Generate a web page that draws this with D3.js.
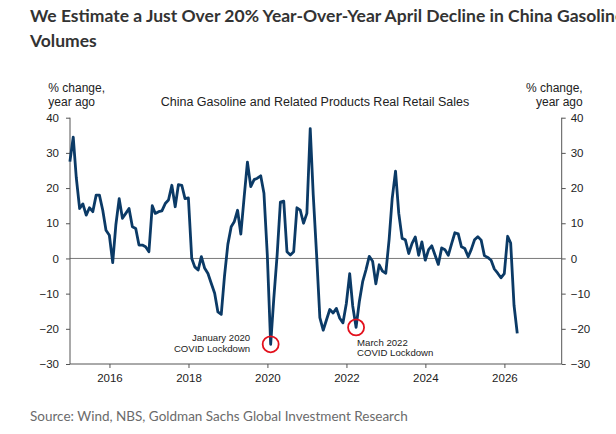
<!DOCTYPE html>
<html>
<head>
<meta charset="utf-8">
<script src="https://cdn.jsdelivr.net/npm/d3@7"></script>
<style>
  body { margin: 0; background: #fff; overflow: hidden; }
  svg { display: block; }
</style>
</head>
<body>
<div id="chart"></div>
<script>
// data: monthly y/y % change, first value is Dec 2014
const firstMonth = "2014-12";
const salesYoY = [
  27.5, 34.5, 23, 14.2, 15.5, 12.3, 14.4, 13.3, 18, 18, 13.7, 8, 6.6,
  -1.2, 9.5, 17, 11.4, 12.8, 14.2, 9, 8.5, 3.8, 3.8, 3.3, 1.9,
  15, 12.8, 13.3, 13.5, 15.6, 16.6, 20.8, 14.7, 21, 20.8, 17, 17.2,
  0, -2.4, -3.3, 0.5, -2.8, -4.3, -7.1, -9.9, -15.2, -15.9, -5, 4,
  9, 10.4, 13.7, 6.9, 17.5, 27.4, 20.4, 22.4, 22.8, 23.5, 18.5, 1,
  -24.4, -11.4, 1, 16, 16.3, 1.9, 1, 1.9, 14.4, 13.7, 10, 12.8,
  36.9, 18, 1, -16.8, -20.4, -17.5, -14.5, -15.5, -14.2, -17, -18.3, -12.8,
  -4.3, -13.5, -19.6, -12.3, -6.6, -3.3, 0.6, -0.8, -7.2, -1.8, -3.6, -4.2,
  5.5, 17, 24.8, 12.8, 5.7, 5.3, 1.4, 4.3, 6.1, 0.9, 4.7, -0.5,
  2.5, 3.6, 0.9, -1.7, 3, 2.5, 0.9, 4.2, 7.3, 7, 3.3, 2.8,
  0.5, 2.5, 5.3, 6.2, 5.2, 0.8, 0.3, -0.5, -3, -4.2, -5.5, -4.3,
  6.3, 4.4, -13.3, -21.3
];
const yTicks = [-30, -20, -10, 0, 10, 20, 30, 40];
const xTickYears = [2016, 2018, 2020, 2022, 2024, 2026];
const noteMonths = ["2020-01", "2022-03"];
const noteLines = [["January 2020", "COVID Lockdown"], ["March 2022", "COVID Lockdown"]];

const title1 = "We Estimate a Just Over 20% Year-Over-Year April Decline in China Gasoline";
const title2 = "Volumes";
const chartTitle = "China Gasoline and Related Products Real Retail Sales";
const unitLines = ["% change,", "year ago"];
const source = "Source: Wind, NBS, Goldman Sachs Global Investment Research";

// dimensions
const W = 616, H = 434;
const margin = { top: 117.7, right: 54.3, bottom: 70, left: 70 };
const plotW = W - margin.left - margin.right;
const plotH = H - margin.top - margin.bottom;

const svg = d3.select("#chart").append("svg")
  .attr("width", W)
  .attr("height", H);

// heading
[title1, title2].forEach((t, i) => {
  svg.append("text")
    .attr("x", 30).attr("y", 21.5 + i * 25.5)
    .attr("font-family", "Lato, sans-serif")
    .attr("font-weight", 700)
    .attr("font-size", "17.5px")
    .attr("fill", "#333")
    .text(t);
});

// source
svg.append("text")
  .attr("x", 30).attr("y", 421)
  .attr("font-family", "Lato, sans-serif")
  .attr("font-size", "13.5px")
  .attr("fill", "#6b6b6b")
  .text(source);

const g = svg.append("g")
  .attr("transform", `translate(${margin.left}, ${margin.top})`);

// scales
const parseMonth = d3.timeParse("%Y-%m");
const start = parseMonth(firstMonth);
const series = salesYoY.map((v, i) => ({
  date: d3.timeDay.offset(d3.timeMonth.offset(start, i + 1), -1),
  value: v
}));

const xScale = d3.scaleTime()
  .domain([new Date(2015, 0, 1), new Date(2027, 5, 15)])
  .range([0, plotW]);
const yScale = d3.scaleLinear()
  .domain([-30, 40])
  .range([plotH, 0]);

const fontAxis = "'Liberation Sans', Arial, sans-serif";

// zero line
g.append("line")
  .attr("x1", 0).attr("x2", plotW)
  .attr("y1", yScale(0)).attr("y2", yScale(0))
  .attr("stroke", "#7a7a7a")
  .attr("stroke-width", 1);

// axes
const yLeft = d3.axisLeft(yScale).tickValues(yTicks).tickSize(4).tickPadding(7);
const yRight = d3.axisRight(yScale).tickValues(yTicks).tickSize(4).tickPadding(5);
const xAxis = d3.axisBottom(xScale)
  .tickValues(xTickYears.map(y => new Date(y, 0, 1)))
  .tickFormat(d3.timeFormat("%Y"))
  .tickSize(4).tickPadding(6);

function styleAxis(sel) {
  sel.select(".domain").attr("stroke", "#555");
  sel.selectAll(".tick line").attr("stroke", "#555");
  sel.selectAll(".tick text")
    .attr("fill", "#222")
    .attr("font-family", fontAxis)
    .attr("font-size", "11.5px");
}

g.append("g").call(yLeft).call(styleAxis)
  .call(s => s.select(".domain").attr("d", `M0,${plotH}V0`));
g.append("g").attr("transform", `translate(${plotW},0)`).call(yRight).call(styleAxis)
  .call(s => s.select(".domain").attr("d", `M0,${plotH}V0`));
g.append("g").attr("transform", `translate(0,${plotH})`).call(xAxis).call(styleAxis)
  .call(s => s.select(".domain").attr("d", `M0,0H${plotW}`));

// unit labels
unitLines.forEach((t, i) => {
  g.append("text")
    .attr("x", -21.7).attr("y", -26 + i * 14)
    .attr("font-family", fontAxis).attr("font-size", "12px").attr("fill", "#222")
    .text(t);
  g.append("text")
    .attr("x", plotW + 21).attr("y", -26 + i * 14)
    .attr("text-anchor", "end")
    .attr("font-family", fontAxis).attr("font-size", "12px").attr("fill", "#222")
    .text(t);
});

// chart title
g.append("text")
  .attr("x", (161 + 469) / 2 - margin.left).attr("y", -11.5)
  .attr("text-anchor", "middle")
  .attr("font-family", fontAxis).attr("font-size", "12.5px").attr("fill", "#222")
  .text(chartTitle);

// line
const lineGenerator = d3.line()
  .x(d => xScale(d.date))
  .y(d => yScale(d.value));

g.append("path")
  .datum(series)
  .attr("d", lineGenerator)
  .attr("fill", "none")
  .attr("stroke", "#0b3a66")
  .attr("stroke-width", 2.8)
  .attr("stroke-linejoin", "round");

// annotations
noteMonths.forEach((m, i) => {
  const d = series.find(p => d3.timeFormat("%Y-%m")(p.date) === m);
  const cx = xScale(d.date), cy = yScale(d.value);
  g.append("circle")
    .attr("cx", cx).attr("cy", cy).attr("r", 8)
    .attr("fill", "none")
    .attr("stroke", "#e3101c")
    .attr("stroke-width", 1.8);
  const left = i === 0;
  const txt = g.append("text")
    .attr("font-family", fontAxis).attr("font-size", "9.6px").attr("fill", "#222")
    .attr("text-anchor", left ? "end" : "start");
  noteLines[i].forEach((t, j) => {
    txt.append("tspan")
      .attr("x", left ? cx - 20.5 : cx + 1)
      .attr("y", (left ? cy - 3 : cy + 18.3) + j * 10.5)
      .text(t);
  });
});
</script>
</body>
</html>
